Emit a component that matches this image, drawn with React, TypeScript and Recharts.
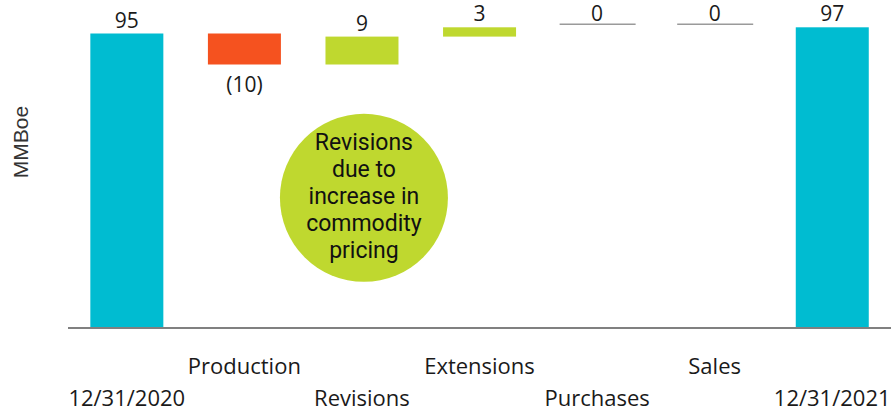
import React from "react";
import {
  BarChart,
  Bar,
  XAxis,
  YAxis,
  Cell,
  LabelList,
  ReferenceDot,
} from "recharts";

const categories = [
  "12/31/2020",
  "Production",
  "Revisions",
  "Extensions",
  "Purchases",
  "Sales",
  "12/31/2021",
];
// reserve changes in MMBoe; first and last are totals
const changes = [95, -10, 9, 3, 0, 0, 97];
const isTotal = [true, false, false, false, false, false, true];
const noteLines = ["Revisions", "due to", "increase in", "commodity", "pricing"];

const TEAL = "#00BCD1";
const RED = "#F5521F";
const LIME = "#BFD82F";

function formatChange(v: number): string {
  return v < 0 ? `(${Math.abs(v)})` : `${v}`;
}

let running = 0;
const chartData = categories.map((name, i) => {
  const v = changes[i];
  let base = 0;
  let amount = v;
  if (isTotal[i]) {
    running = v;
  } else {
    base = Math.min(running, running + v);
    amount = Math.abs(v);
    running += v;
  }
  return { name, base, amount, change: v };
});

function barColor(i: number): string {
  if (isTotal[i]) return TEAL;
  return changes[i] < 0 ? RED : LIME;
}

function WaterfallShape(props: any) {
  const { x, y, width, height, fill } = props;
  if (!height || height < 0.5) {
    return (
      <line x1={x - 1} x2={x + width + 2} y1={y - 3} y2={y - 3} stroke="#9a9a9a" strokeWidth={1.5} />
    );
  }
  return <rect x={x} y={y} width={width} height={height} fill={fill} />;
}

function ValueLabel(props: any) {
  const { x, y, width, height, index } = props;
  const v = changes[index];
  const cx = x + width / 2;
  let ty = y - 14;
  if (v < 0) ty = y + height + 19;
  return (
    <text
      x={cx}
      y={ty}
      textAnchor="middle"
      dominantBaseline="central"
      fontFamily="'Open Sans', sans-serif"
      fontSize={21}
      fill="#1a1a1a"
    >
      {formatChange(v)}
    </text>
  );
}

function StaggerTick(props: any) {
  const { x, y, payload, index } = props;
  const dy = index % 2 === 1 ? 40 : 72;
  return (
    <text
      x={x}
      y={y + dy}
      textAnchor="middle"
      fontFamily="'Open Sans', sans-serif"
      fontSize={22}
      fill="#1a1a1a"
    >
      {payload.value}
    </text>
  );
}

function NoteBubble(props: any) {
  const { cx, cy } = props;
  return (
    <g>
      <circle cx={cx + 2} cy={cy} r={84} fill={LIME} />
      {noteLines.map((t, i) => (
        <text
          key={t}
          x={cx + 2}
          y={cy - 48 + i * 27}
          textAnchor="middle"
          fontFamily="Roboto, sans-serif"
          fontSize={23}
          fill="#111"
        >
          {t}
        </text>
      ))}
    </g>
  );
}

export default function App() {
  return (
    <div style={{ position: "absolute", left: 0, top: 0, width: 891, height: 412, background: "#fff" }}>
      <BarChart
        width={891}
        height={412}
        data={chartData}
        margin={{ top: 18, right: 0, bottom: 0, left: 0 }}
        barCategoryGap="19%"
      >
        <XAxis
          dataKey="name"
          interval={0}
          height={84}
          tickLine={false}
          tickMargin={0}
          axisLine={{ stroke: "#808080", strokeWidth: 2 }}
          tick={<StaggerTick />}
        />
        <YAxis
          width={68}
          domain={[0, 100]}
          allowDataOverflow
          tick={false}
          tickLine={false}
          axisLine={false}
          label={() => (
            <text
              x={20}
              y={142}
              transform="rotate(-90 20 142)"
              textAnchor="middle"
              dominantBaseline="central"
              fontFamily="'Liberation Sans', Arial, sans-serif"
              fontSize={21}
              fill="#333"
            >
              MMBoe
            </text>
          )}
        />
        <Bar dataKey="base" stackId="w" fill="transparent" isAnimationActive={false} />
        <Bar dataKey="amount" stackId="w" isAnimationActive={false} shape={<WaterfallShape />}>
          {chartData.map((d, i) => (
            <Cell key={d.name} fill={barColor(i)} />
          ))}
          <LabelList dataKey="change" content={<ValueLabel />} />
        </Bar>
        <ReferenceDot x="Revisions" y={42} r={84} shape={<NoteBubble />} />
      </BarChart>
    </div>
  );
}
